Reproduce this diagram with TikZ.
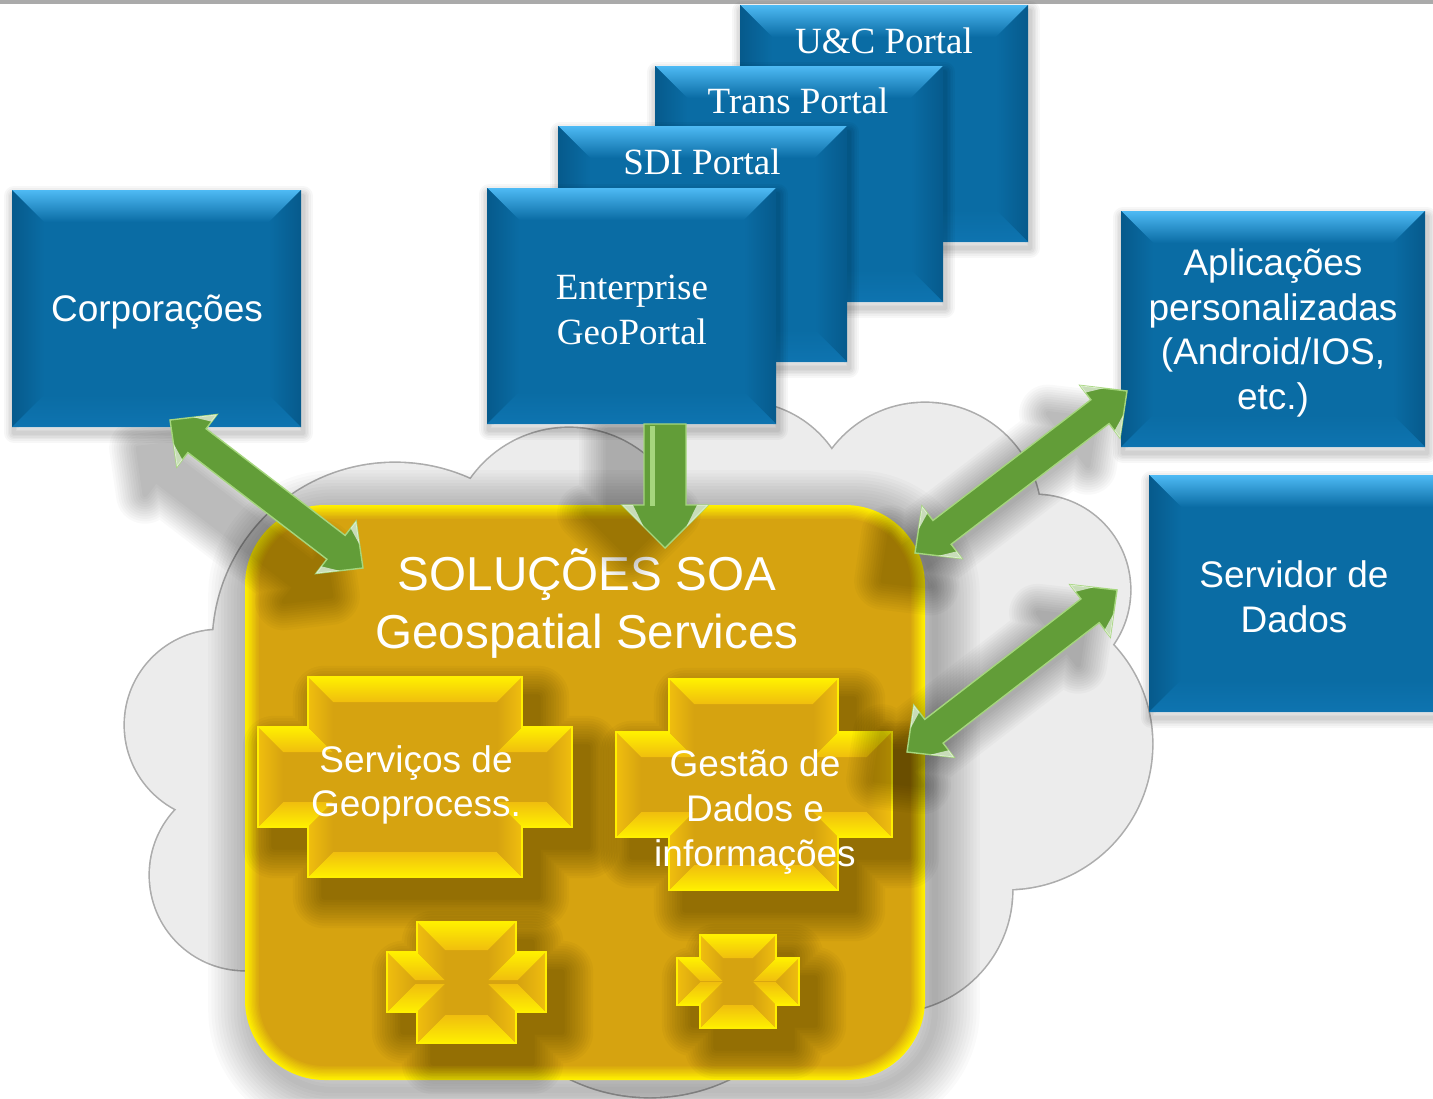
\documentclass[tikz,border=0pt]{standalone}
\usepackage{fontspec}
\setmainfont{Liberation Serif}
\setsansfont{Liberation Sans}
\usetikzlibrary{arrows.meta,calc,fit}
\definecolor{blueM}{RGB}{10,108,164}
\definecolor{blueL}{RGB}{78,186,244}
\definecolor{blueD}{RGB}{6,90,140}
\definecolor{blueB}{RGB}{14,116,176}
\definecolor{goldM}{RGB}{214,163,16}
\definecolor{goldB}{RGB}{255,240,0}
\definecolor{goldS}{RGB}{240,190,14}
\definecolor{arrowG}{RGB}{98,157,56}
\definecolor{arrowL}{RGB}{165,214,125}
\definecolor{cloudF}{RGB}{236,236,236}
\definecolor{cloudE}{RGB}{172,172,172}
\definecolor{topbar}{RGB}{170,170,170}

% blue bevelled box: name, x1, y1, x2, y2
\newcommand\bluebox[5]{%
  \foreach \k in {1,...,6}{\pgfmathsetmacro\lw{\k*1.6}\draw[black, opacity=0.03, line width=\lw pt, line join=round] (#2+2,#3+6) rectangle (#4+2,#5+6);}
  \fill[blueM] (#2,#3) rectangle (#4,#5);
  \shade[top color=blueL, bottom color=blueM] (#2,#3) -- (#4,#3) -- (#4-32,#3+32) -- (#2+32,#3+32) -- cycle;
  \shade[left color=blueD, right color=blueM] (#2,#3) -- (#2+32,#3+32) -- (#2+32,#5-32) -- (#2,#5) -- cycle;
  \shade[left color=blueM, right color=blueD] (#4,#3) -- (#4,#5) -- (#4-32,#5-32) -- (#4-32,#3+32) -- cycle;
  \shade[top color=blueM, bottom color=blueB] (#2,#5) -- (#4,#5) -- (#4-32,#5-32) -- (#2+32,#5-32) -- cycle;
  \node[fit={(#2,#3) (#4,#5)}, inner sep=0pt] (#1) {};
}

% outer cross polygon: x1 x2 x3 x4 y1 y2 y3 y4
\newcommand\crosspath[8]{(#2,#5)--(#3,#5)--(#3,#6)--(#4,#6)--(#4,#7)--(#3,#7)--(#3,#8)--(#2,#8)--(#2,#7)--(#1,#7)--(#1,#6)--(#2,#6)--cycle}

% bevelled gold cross: x1 x2 x3 x4 y1 y2 y3 y4 bevel
\newcommand\gcross[9]{%
  \begin{scope}[shift={(16,20)}]
    \foreach \k in {1,...,12}{\pgfmathsetmacro\lw{\k*2.6}%
      \begin{scope}[transparency group, opacity=0.026]
      \path[fill=black, draw=black, line width=\lw pt, line join=round] \crosspath{#1}{#2}{#3}{#4}{#5}{#6}{#7}{#8};
      \end{scope}}
  \end{scope}
  \fill[goldM] \crosspath{#1}{#2}{#3}{#4}{#5}{#6}{#7}{#8};
  % top faces
  \shade[top color=goldB, bottom color=goldS] (#2,#5)--(#3,#5)--(#3-#9,#5+#9)--(#2+#9,#5+#9)--cycle;
  \shade[top color=goldB, bottom color=goldS] (#3,#6)--(#4,#6)--(#4-#9,#6+#9)--(#3-#9,#6+#9)--cycle;
  \shade[top color=goldB, bottom color=goldS] (#1,#6)--(#2,#6)--(#2+#9,#6+#9)--(#1+#9,#6+#9)--cycle;
  % bottom faces
  \shade[top color=goldS, bottom color=goldB] (#3,#8)--(#2,#8)--(#2+#9,#8-#9)--(#3-#9,#8-#9)--cycle;
  \shade[top color=goldS, bottom color=goldB] (#4,#7)--(#3,#7)--(#3-#9,#7-#9)--(#4-#9,#7-#9)--cycle;
  \shade[top color=goldS, bottom color=goldB] (#2,#7)--(#1,#7)--(#1+#9,#7-#9)--(#2+#9,#7-#9)--cycle;
  % left faces
  \shade[left color=goldS, right color=goldM] (#2,#8)--(#2,#7)--(#2+#9,#7-#9)--(#2+#9,#8-#9)--cycle;
  \shade[left color=goldS, right color=goldM] (#1,#7)--(#1,#6)--(#1+#9,#6+#9)--(#1+#9,#7-#9)--cycle;
  \shade[left color=goldS, right color=goldM] (#2,#6)--(#2,#5)--(#2+#9,#5+#9)--(#2+#9,#6+#9)--cycle;
  % right faces
  \shade[left color=goldM, right color=goldS] (#3,#5)--(#3,#6)--(#3-#9,#6+#9)--(#3-#9,#5+#9)--cycle;
  \shade[left color=goldM, right color=goldS] (#4,#6)--(#4,#7)--(#4-#9,#7-#9)--(#4-#9,#6+#9)--cycle;
  \shade[left color=goldM, right color=goldS] (#3,#7)--(#3,#8)--(#3-#9,#8-#9)--(#3-#9,#7-#9)--cycle;
  \draw[goldB, line width=0.6pt] \crosspath{#1}{#2}{#3}{#4}{#5}{#6}{#7}{#8};
}

% double-headed block arrow: A, B, shaft half width, head half width, head length, style
\newcommand\dblarrow[6]{%
  \path[#6] (#1) -- ($(#1)!#5!(#2)!#4!90:(#2)$) -- ($(#1)!#5!(#2)!#3!90:(#2)$)
   -- ($(#2)!#5!(#1)!#3!-90:(#1)$) -- ($(#2)!#5!(#1)!#4!-90:(#1)$) -- (#2)
   -- ($(#2)!#5!(#1)!#4!90:(#1)$) -- ($(#2)!#5!(#1)!#3!90:(#1)$)
   -- ($(#1)!#5!(#2)!#3!-90:(#2)$) -- ($(#1)!#5!(#2)!#4!-90:(#2)$) -- cycle;
}
% single-headed block arrow
\newcommand\onearrow[6]{%
  \path[#6] ($(#1)!#3!90:(#2)$) -- ($(#2)!#5!(#1)!#3!-90:(#1)$) -- ($(#2)!#5!(#1)!#4!-90:(#1)$) -- (#2)
   -- ($(#2)!#5!(#1)!#4!90:(#1)$) -- ($(#2)!#5!(#1)!#3!90:(#1)$) -- ($(#1)!#3!-90:(#2)$) -- cycle;
}
% light glints on the back corners of an arrow head: tip, other end, w, h, k
\newcommand\headshine[5]{%
  \coordinate (hsC) at ($(#1)!#5!(#2)!#4!90:(#2)$);
  \coordinate (hsS) at ($(#1)!#5!(#2)!#3!90:(#2)$);
  \fill[white, opacity=0.65] (hsC) -- ($(hsC)!0.5!(#1)$) -- ($(hsC)!0.5!(hsS)$) -- cycle;
  \coordinate (hsC) at ($(#1)!#5!(#2)!#4!-90:(#2)$);
  \coordinate (hsS) at ($(#1)!#5!(#2)!#3!-90:(#2)$);
  \fill[white, opacity=0.65] (hsC) -- ($(hsC)!0.5!(#1)$) -- ($(hsC)!0.5!(hsS)$) -- cycle;
}

\begin{document}
\begin{tikzpicture}[x=0.5pt, y=-0.5pt,
  sanstxt/.style={text=white, align=center, inner sep=0pt, font=\sffamily\fontsize{18.5}{22.3}\selectfont},
  seriftxt/.style={text=white, align=center, inner sep=0pt, font=\rmfamily\fontsize{18.5}{22.3}\selectfont},
  titletxt/.style={text=white, align=center, inner sep=0pt, font=\sffamily\fontsize{23.8}{29}\selectfont},
  arrowbody/.style={fill=arrowG, draw=arrowL, line width=0.7pt, line join=miter},
  shadowlayer/.style={fill=black, draw=black, line width=#1, line join=round},
]
\useasboundingbox (0,0) rectangle (1433,1098);
\clip (0,0) rectangle (1433,1098);
\fill[white] (0,0) rectangle (1433,1098);
\fill[topbar] (0,0) rectangle (1433,4);

% ---------- cloud ----------
\foreach \cx/\cy/\r in {220/725/95,245/875/95,395/645/182,569/548/120,741/512/110,925/519/116,1035/590/95,1007/744/145,890/890/122,650/914/183}
  {\draw[cloudE, line width=1.6pt] (\cx,\cy) circle[radius=\r];}
\foreach \cx/\cy/\r in {220/725/95,245/875/95,395/645/182,569/548/120,741/512/110,925/519/116,1035/590/95,1007/744/145,890/890/122,650/914/183}
  {\fill[cloudF] (\cx,\cy) circle[radius=\r];}
\fill[cloudF] (220,725)--(395,645)--(569,548)--(741,512)--(925,519)--(1035,590)--(1007,744)--(890,890)--(650,914)--(245,875)--cycle;

% ---------- shadow of the gold panel ----------
\foreach \k in {1,...,14}
  {\pgfmathsetmacro\lw{\k*3.2}\draw[black, opacity=0.02, line width=\lw pt, rounded corners=40pt] (253,515) rectangle (935,1090);}

% ---------- gold panel ----------
\foreach \i in {0,...,10}{%
  \pgfmathsetmacro\dd{\i*1.4}
  \pgfmathsetmacro\rr{(80-\i*1.4)/2}
  \pgfmathtruncatemacro\pc{100-\i*10}
  \fill[goldB!\pc!goldM, rounded corners=\rr pt] (245+\dd,505+\dd) rectangle (925-\dd,1080-\dd);
}
\node[fit={(245,505) (925,1080)}, inner sep=0pt] (soa) {};

% ---------- crosses ----------
\gcross{258}{308}{522}{572}{677}{727}{827}{877}{25}
\gcross{616}{669}{838}{892}{679}{732}{837}{890}{25}
\gcross{387}{417}{516}{546}{922}{952}{1012}{1043}{28}
\gcross{677}{700}{776}{799}{935}{958}{1005}{1028}{23}

\node[titletxt] (soa-t) at (587,604) {SOLUÇÕES SOA\\Geospatial Services};
\node[sanstxt] (geo-t) at (416,785) {Serviços de\\Geoprocess.};
\node[sanstxt] (ges-t) at (755,812) {Gestão de\\Dados e\\informações};

% ---------- arrow end points ----------
\coordinate (ca1) at (170,420); \coordinate (ca2) at (363,568);
\coordinate (aa1) at (915,553); \coordinate (aa2) at (1127,391);
\coordinate (sa1) at (907,752); \coordinate (sa2) at (1117,590);
\coordinate (va1) at (665,424); \coordinate (va2) at (665,548);

% ---------- arrow shadows ----------
\begin{scope}[transform canvas={shift={(-16pt,-14pt)}}]
  \foreach \k in {1,...,12}{%
    \pgfmathsetmacro\lw{\k*2.4}
    \begin{scope}[transparency group, opacity=0.022]
    \dblarrow{ca1}{ca2}{7.5pt}{16.5pt}{17pt}{shadowlayer=\lw pt}
    \dblarrow{aa1}{aa2}{7.5pt}{16.5pt}{17pt}{shadowlayer=\lw pt}
    \dblarrow{sa1}{sa2}{7.5pt}{16.5pt}{17pt}{shadowlayer=\lw pt}
    \end{scope}
  }
\end{scope}
\begin{scope}[transform canvas={shift={(-18pt,-4pt)}}]
  \foreach \k in {1,...,12}{%
    \pgfmathsetmacro\lw{\k*2.4}
    \begin{scope}[transparency group, opacity=0.022]
    \onearrow{va1}{va2}{10.5pt}{21.5pt}{21.5pt}{shadowlayer=\lw pt}
    \end{scope}
  }
\end{scope}

% ---------- blue boxes ----------
\bluebox{uc}{740}{5}{1028}{242}
\node[seriftxt] (uc-t) at (884,41) {U\&C Portal};
\bluebox{tr}{655}{66}{943}{302}
\node[seriftxt] (tr-t) at (798,101) {Trans Portal};
\bluebox{sdi}{558}{126}{847}{362}
\node[seriftxt] (sdi-t) at (702,162) {SDI Portal};
\bluebox{ent}{487}{188}{776}{424}
\node[seriftxt] (ent-t) at (632,310) {Enterprise\\GeoPortal};
\bluebox{corp}{12}{190}{301}{427}
\node[sanstxt] (corp-t) at (157,312) {Corporações};
\bluebox{apl}{1121}{211}{1425}{447}
\node[sanstxt] (apl-t) at (1273,333) {Aplicações\\personalizadas\\(Android/IOS,\\etc.)};
\bluebox{srv}{1149}{475}{1470}{712}
\node[sanstxt] (srv-t) at (1294,597) {Servidor de\\Dados};

% ---------- green arrows ----------
\onearrow{va1}{va2}{10.5pt}{21.5pt}{21.5pt}{arrowbody}
\draw[arrowL, line width=2.5pt] ($(va1)+(-13,2)$) -- ($(va1)+(-13,82)$);
\headshine{va2}{va1}{10.5pt}{21.5pt}{21.5pt}
\dblarrow{ca1}{ca2}{7.5pt}{16.5pt}{17pt}{arrowbody}
\dblarrow{aa1}{aa2}{7.5pt}{16.5pt}{17pt}{arrowbody}
\dblarrow{sa1}{sa2}{7.5pt}{16.5pt}{17pt}{arrowbody}
\foreach \p/\q in {ca1/ca2,ca2/ca1,aa1/aa2,aa2/aa1,sa1/sa2,sa2/sa1}
  {\headshine{\p}{\q}{7.5pt}{16.5pt}{17pt}}
\end{tikzpicture}
\end{document}
